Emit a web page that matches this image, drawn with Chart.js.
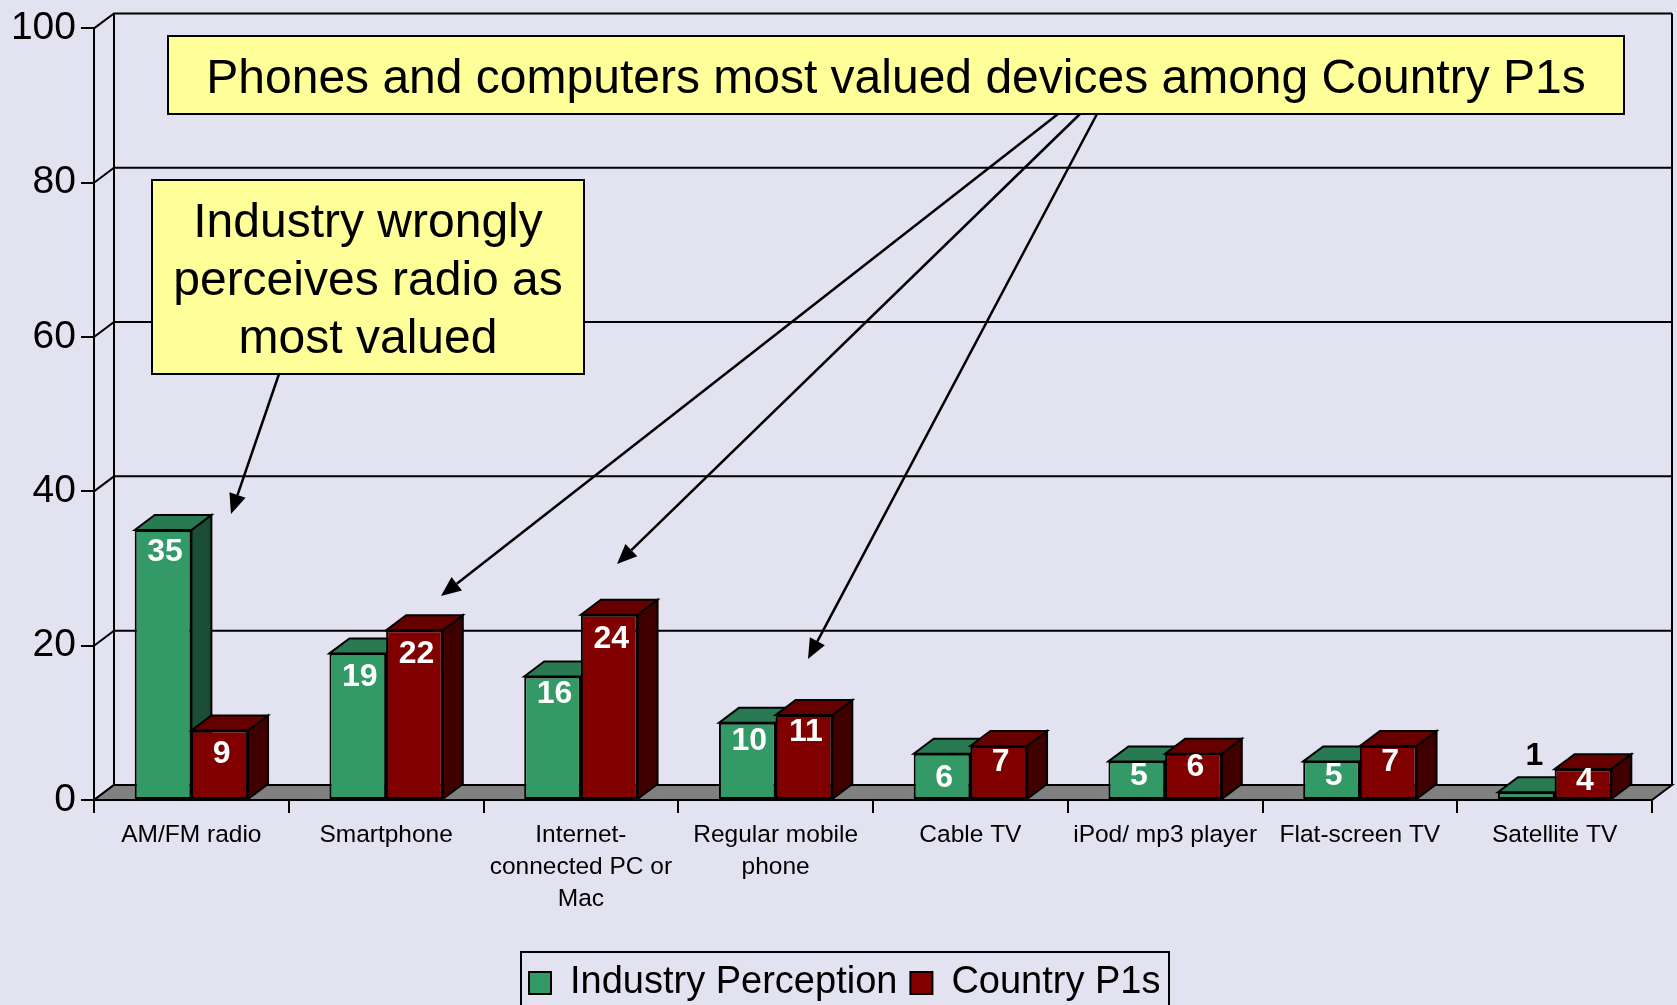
<!DOCTYPE html>
<html>
<head>
<meta charset="utf-8">
<script src="https://cdn.jsdelivr.net/npm/chart.js@4/dist/chart.umd.js"></script>
<style>
html, body { margin:0; padding:0; background:#E2E2F0; overflow:hidden; }
#wrap { width:1677px; height:1005px; position:relative; }
</style>
</head>
<body>
<div id="wrap"><canvas id="chart"></canvas></div>
<script>
// ======================================
// DATA
// ======================================

const categories = [
    "AM/FM radio",
    "Smartphone",
    ["Internet-", "connected PC or", "Mac"],
    ["Regular mobile", "phone"],
    "Cable TV",
    "iPod/ mp3 player",
    "Flat-screen TV",
    "Satellite TV"
];
const industryPerception = [35, 19, 16, 10, 6, 5, 5, 1];
const countryP1s = [9, 22, 24, 11, 7, 6, 7, 4];

// how far below the bar top each value label sits (negative = above the bar)
const industryLabelDrop = [22, 24, 18, 18, 24, 15, 15, -36];
const countryLabelDrop = [24, 24, 24, 17, 16, 13, 16, 12];

// ======================================
// STYLE AND CALLOUTS
// ======================================

const FONT = "'Liberation Sans', Arial, sans-serif";
const DEPTH_X = 20;
const DEPTH_Y = 15;

const GREEN = { front:"#339966", top:"#297A52", side:"#1A4D33" };
const RED = { front:"#800000", top:"#660000", side:"#400000" };

const callouts = [
    { x:168, y:36, w:1456, h:78, lines:["Phones and computers most valued devices among Country P1s"], first:44 },
    { x:152, y:180, w:432, h:194, lines:["Industry wrongly", "perceives radio as", "most valued"], first:44 }
];

const arrows = [
    [279, 374, 231, 514],
    [1058, 114, 441, 596],
    [1080, 114, 617, 564],
    [1097, 114, 808, 659]
];

// ======================================
// 3D PARTS OF THE BARS
// ======================================

function poly(ctx, pts, fill){
    ctx.beginPath();
    ctx.moveTo(pts[0][0], pts[0][1]);
    pts.slice(1).forEach(function(p){ ctx.lineTo(p[0], p[1]); });
    ctx.closePath();
    ctx.fillStyle = fill;
    ctx.fill();
    ctx.lineWidth = 2;
    ctx.strokeStyle = "#000";
    ctx.lineJoin = "miter";
    ctx.stroke();
}

function drawDepth(ctx, meta, tone){
    meta.data.forEach(function(bar){
        const l = bar.x - bar.width / 2;
        const r = bar.x + bar.width / 2;
        ctx.save();
        poly(ctx, [[r, bar.y], [r + DEPTH_X, bar.y - DEPTH_Y], [r + DEPTH_X, bar.base - DEPTH_Y], [r, bar.base]], tone.side);
        poly(ctx, [[l, bar.y], [l + DEPTH_X, bar.y - DEPTH_Y], [r + DEPTH_X, bar.y - DEPTH_Y], [r, bar.y]], tone.top);
        ctx.restore();
    });
}

// Chart.js paints the last dataset first, here the red bars have to go over the green ones
const bars3d = {
    id:"bars3d",
    beforeDatasetDraw(chart, args){
        if(args.index == 1){
            return false;
        }
        drawDepth(chart.ctx, args.meta, GREEN);
    },
    afterDatasetDraw(chart, args){
        if(args.index == 0){
            const redMeta = chart.getDatasetMeta(1);
            drawDepth(chart.ctx, redMeta, RED);
            redMeta.data.forEach(function(bar){ bar.draw(chart.ctx); });
        }
    }
};

// ======================================
// BACK WALL, FLOOR, GRID
// ======================================

const wall3d = {
    id:"wall3d",
    beforeDatasetsDraw(chart){
        const ctx = chart.ctx;
        const a = chart.chartArea;
        const y = chart.scales.y;
        ctx.save();
        ctx.strokeStyle = "#000";
        ctx.lineWidth = 2;
        y.ticks.forEach(function(t){
            const py = y.getPixelForValue(t.value);
            ctx.beginPath();
            ctx.moveTo(a.left, py);
            ctx.lineTo(a.left + DEPTH_X, py - DEPTH_Y);
            if(t.value > 0){
                ctx.lineTo(a.right + DEPTH_X, py - DEPTH_Y);
            }
            ctx.stroke();
        });
        ctx.beginPath();
        ctx.moveTo(a.left + DEPTH_X, a.top - DEPTH_Y);
        ctx.lineTo(a.left + DEPTH_X, a.bottom - DEPTH_Y);
        ctx.moveTo(a.right + DEPTH_X, a.top - DEPTH_Y);
        ctx.lineTo(a.right + DEPTH_X, a.bottom - DEPTH_Y);
        ctx.stroke();
        poly(ctx, [
            [a.left, a.bottom],
            [a.left + DEPTH_X, a.bottom - DEPTH_Y],
            [a.right + DEPTH_X, a.bottom - DEPTH_Y],
            [a.right, a.bottom]
        ], "#808080");
        ctx.restore();
    }
};

// ======================================
// VALUE LABELS, CALLOUTS, LEGEND FRAME
// ======================================

const overlay = {
    id:"overlay",
    afterLayout(chart){
        chart.legend.left = 516;
        chart.legend.top = 951;
    },
    afterDatasetsDraw(chart){
        const ctx = chart.ctx;
        ctx.save();
        ctx.textAlign = "center";
        ctx.textBaseline = "middle";
        ctx.font = "bold 32px " + FONT;
        chart.data.datasets.forEach(function(ds, i){
            const drops = i == 0 ? industryLabelDrop : countryLabelDrop;
            chart.getDatasetMeta(i).data.forEach(function(bar, j){
                const above = drops[j] < 0;
                ctx.fillStyle = above ? "#000" : "#fff";
                ctx.fillText(String(ds.data[j]), bar.x + (above ? 8 : 2), bar.y + drops[j]);
            });
        });
        ctx.restore();
    },
    afterDraw(chart){
        const ctx = chart.ctx;
        ctx.save();
        ctx.strokeStyle = "#000";
        ctx.fillStyle = "#000";

        // arrows
        arrows.forEach(function(a){
            const ang = Math.atan2(a[3] - a[1], a[2] - a[0]);
            const hl = 20, hw = 8.5;
            const bx = a[2] - hl * Math.cos(ang);
            const by = a[3] - hl * Math.sin(ang);
            ctx.lineWidth = 2.5;
            ctx.beginPath();
            ctx.moveTo(a[0], a[1]);
            ctx.lineTo(bx, by);
            ctx.stroke();
            ctx.beginPath();
            ctx.moveTo(a[2], a[3]);
            ctx.lineTo(bx - hw * Math.sin(ang), by + hw * Math.cos(ang));
            ctx.lineTo(bx + hw * Math.sin(ang), by - hw * Math.cos(ang));
            ctx.closePath();
            ctx.fill();
        });

        // callout boxes
        callouts.forEach(function(c){
            ctx.fillStyle = "#FFFF99";
            ctx.lineWidth = 2;
            ctx.fillRect(c.x, c.y, c.w, c.h);
            ctx.strokeRect(c.x, c.y, c.w, c.h);
            ctx.fillStyle = "#000";
            ctx.font = "48px " + FONT;
            ctx.textAlign = "center";
            ctx.textBaseline = "middle";
            c.lines.forEach(function(line, i){
                ctx.fillText(line, c.x + c.w / 2, c.y + c.first + i * 58);
            });
        });

        // legend frame, runs off the bottom of the picture
        ctx.lineWidth = 2;
        ctx.strokeRect(521, 952, 648, 70);
        ctx.restore();
    }
};

// ======================================
// CHART
// ======================================

new Chart(document.getElementById("chart"),{
    type:"bar",
    data:{
        labels:categories,
        datasets:[
            {
                label:"Industry Perception",
                data:industryPerception,
                backgroundColor:GREEN.front,
                borderColor:"#000",
                borderWidth:2,
                borderSkipped:false
            },
            {
                label:"Country P1s",
                data:countryP1s,
                backgroundColor:RED.front,
                borderColor:"#000",
                borderWidth:2,
                borderSkipped:false
            }
        ]
    },
    options:{
        responsive:true,
        maintainAspectRatio:false,
        animation:false,
        events:[],
        layout:{ padding:{ left:0, right:25, top:23.5, bottom:0 } },
        datasets:{ bar:{ categoryPercentage:0.582, barPercentage:1 } },
        plugins:{
            legend:{
                position:"bottom",
                align:"start",
                labels:{
                    boxWidth:22,
                    boxHeight:22,
                    padding:13,
                    color:"#000",
                    font:{ family:FONT, size:38 }
                }
            },
            tooltip:{ enabled:false }
        },
        scales:{
            x:{
                offset:true,
                afterFit(scale){ scale.height = 205 - scale.chart.legend.height; },
                grid:{ drawOnChartArea:false, drawTicks:true, tickLength:13, color:"#000", lineWidth:2 },
                border:{ display:true, color:"#000", width:2 },
                ticks:{
                    autoSkip:false,
                    maxRotation:0,
                    minRotation:0,
                    padding:6,
                    color:"#000",
                    font:{ family:FONT, size:24.5, lineHeight:1.306 }
                }
            },
            y:{
                min:0,
                max:100,
                afterFit(scale){ scale.width = 94; },
                grid:{ drawOnChartArea:false, drawTicks:true, tickLength:13, color:"#000", lineWidth:2 },
                border:{ display:true, color:"#000", width:2 },
                ticks:{
                    stepSize:20,
                    padding:5,
                    color:"#000",
                    font:{ family:FONT, size:39 }
                }
            }
        }
    },
    plugins:[wall3d, bars3d, overlay]
});
</script>
</body>
</html>
